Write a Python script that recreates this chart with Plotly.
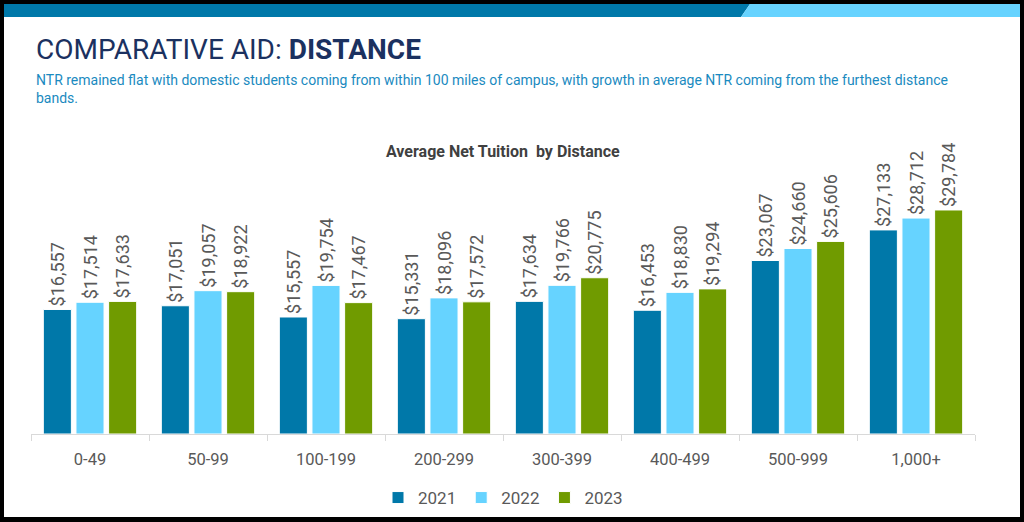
import plotly.graph_objects as go

# data
categories = ["0-49", "50-99", "100-199", "200-299", "300-399", "400-499", "500-999", "1,000+"]
years = ["2021", "2022", "2023"]
ntr_2021 = [16557, 17051, 15557, 15331, 17634, 16453, 23067, 27133]
ntr_2022 = [17514, 19057, 19754, 18096, 19766, 18830, 24660, 28712]
ntr_2023 = [17633, 18922, 17467, 17572, 20775, 19294, 25606, 29784]

colors = {"2021": "#0078A9", "2022": "#66D3FF", "2023": "#709B00"}
narrow = "Roboto, Liberation Sans, sans-serif"

W, H = 1024, 522
L, R, T, B = 31, 49, 170, 88  # plot area 31..975 x 170..434


def px(x):
    return (x - L) / (W - L - R)


def py(y):
    return (H - B - y) / (H - T - B)


fig = go.Figure()

for year, vals in zip(years, [ntr_2021, ntr_2022, ntr_2023]):
    fig.add_trace(go.Bar(
        x=categories,
        y=vals,
        name=year,
        marker=dict(color=colors[year], line=dict(color="white", width=1)),
        texttemplate="$%{y:,}",
        textposition="outside",
        textangle=-90,
        constraintext="none",
        cliponaxis=False,
        textfont=dict(family=narrow, size=18, color="#595959"),
    ))

# frame and header band
shapes = []
for x0, y0, x1, y1 in [(0, 0, W, 4), (0, 0, 4, H), (1020, 0, W, H), (0, 517, W, H)]:
    shapes.append(dict(type="rect", xref="paper", yref="paper",
                       x0=px(x0), x1=px(x1), y0=py(y0), y1=py(y1),
                       fillcolor="black", line=dict(width=0), layer="above"))

shapes.append(dict(type="path", xref="paper", yref="paper",
                   path=f"M{px(4)},{py(4)} L{px(750)},{py(4)} L{px(741)},{py(17)} L{px(4)},{py(17)} Z",
                   fillcolor="#0078A9", line=dict(width=0)))
shapes.append(dict(type="path", xref="paper", yref="paper",
                   path=f"M{px(750)},{py(4)} L{px(1020)},{py(4)} L{px(1020)},{py(17)} L{px(741)},{py(17)} Z",
                   fillcolor="#66D3FF", line=dict(width=0)))

annotations = [
    dict(text="COMPARATIVE AID: <b>DISTANCE</b>", x=px(34), y=py(50),
         xref="paper", yref="paper", xanchor="left", yanchor="middle", showarrow=False,
         font=dict(family=narrow, size=28, color="#1B3160")),
    dict(text="NTR remained flat with domestic students coming from within 100 miles of campus, "
              "with growth in average NTR coming from the furthest distance<br>bands.",
         x=px(34), y=py(89), xref="paper", yref="paper", xanchor="left", yanchor="middle",
         align="left", showarrow=False,
         font=dict(family=narrow, size=14, color="#1A8AC0")),
    dict(text="<b>Average Net Tuition  by Distance</b>", x=px(503), y=py(151),
         xref="paper", yref="paper", xanchor="center", yanchor="middle", showarrow=False,
         font=dict(family="Roboto, sans-serif", size=16, color="#404040")),
]

fig.update_layout(
    width=W, height=H,
    margin=dict(l=L, r=R, t=T, b=B, autoexpand=False),
    paper_bgcolor="white",
    plot_bgcolor="white",
    barmode="group",
    bargap=0.17,
    bargroupgap=0.14,
    shapes=shapes,
    annotations=annotations,
    showlegend=True,
    legend=dict(orientation="h", x=0.5, xanchor="center", y=py(498), yanchor="middle",
                bgcolor="rgba(0,0,0,0)",
                font=dict(family=narrow, size=17, color="#595959"),
                itemwidth=30, traceorder="normal"),
    xaxis=dict(showline=True, linecolor="#D9D9D9", linewidth=1,
               ticks="outside", tickson="boundaries", ticklen=6, tickcolor="#D9D9D9",
               ticklabelstandoff=10,
               tickfont=dict(family=narrow, size=16.5, color="#595959"),
               showgrid=False, fixedrange=True),
    yaxis=dict(visible=False, range=[0, 35100], fixedrange=True),
)

fig.write_html("out.html", config={"displayModeBar": False},
               post_script="document.body.style.margin='0';document.body.style.overflow='hidden';")
